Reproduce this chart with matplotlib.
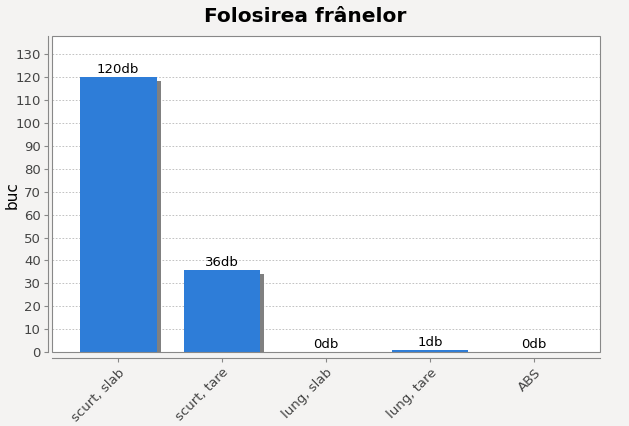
import numpy as np
import matplotlib.pyplot as plt
from matplotlib.patches import Rectangle

categories = ["scurt, slab", "scurt, tare", "lung, slab", "lung, tare", "ABS"]
values = [120, 36, 0, 1, 0]
labels = [f"{v}db" for v in values]

bg = "#f4f3f2"
bar_color = "#2e7dd8"

fig = plt.figure(figsize=(6.29, 4.26), dpi=100, facecolor=bg)
ax = fig.add_axes([52 / 629, 1 - 352 / 426, 548 / 629, 316 / 426])
ax.set_facecolor("white")

x = np.arange(len(categories))
w = 0.74

# shadows (offset a bit right/down, in data units)
dx = 4 / 104
dy = 4 / 2.29
for xi, v in zip(x, values):
    if v > 0:
        ax.add_patch(Rectangle((xi - w / 2 + dx, 0), w, max(v - dy, 0),
                               color="#808080", zorder=2, lw=0))
ax.bar(x, values, width=w, color=bar_color, zorder=3, lw=0)

for xi, v, lab in zip(x, values, labels):
    ax.text(xi, v + 0.4, lab, ha="center", va="bottom", fontsize=9.5, color="black", zorder=4)

ax.set_xlim(-0.635, 4.635)
ax.set_ylim(0, 138)
ax.set_yticks(np.arange(0, 131, 10))
ax.yaxis.grid(True, color="#b8b8b8", linestyle=(0, (2, 2)), linewidth=0.6, zorder=0)
ax.set_axisbelow(True)

# plot outline
ax.add_patch(Rectangle((0, 0), 1, 1, transform=ax.transAxes, fill=False,
                       edgecolor="#888888", lw=0.8, zorder=5, clip_on=False))
for s in ["top", "right"]:
    ax.spines[s].set_visible(False)
ax.spines["left"].set_position(("outward", 3))
ax.spines["bottom"].set_position(("outward", 4))
for s in ["left", "bottom"]:
    ax.spines[s].set_color("#888888")
    ax.spines[s].set_linewidth(0.8)

ax.set_xticks(x)
ax.set_xticklabels(categories, rotation=45, ha="right", rotation_mode="anchor", fontsize=9.5, color="#444444")
ax.tick_params(axis="y", labelsize=9.5, labelcolor="#444444", color="#888888", length=3, pad=2)
ax.tick_params(axis="x", color="#888888", length=3, pad=3)

fig.text(12 / 629, 1 - 195 / 426, "buc", rotation=90, ha="center", va="center",
         fontsize=11, color="black")

fig.text(305 / 629, 1 - 17 / 426, "Folosirea frânelor", ha="center", va="center",
         fontsize=14.5, fontweight="bold")

fig.savefig("out.png", dpi=100, facecolor=bg)
